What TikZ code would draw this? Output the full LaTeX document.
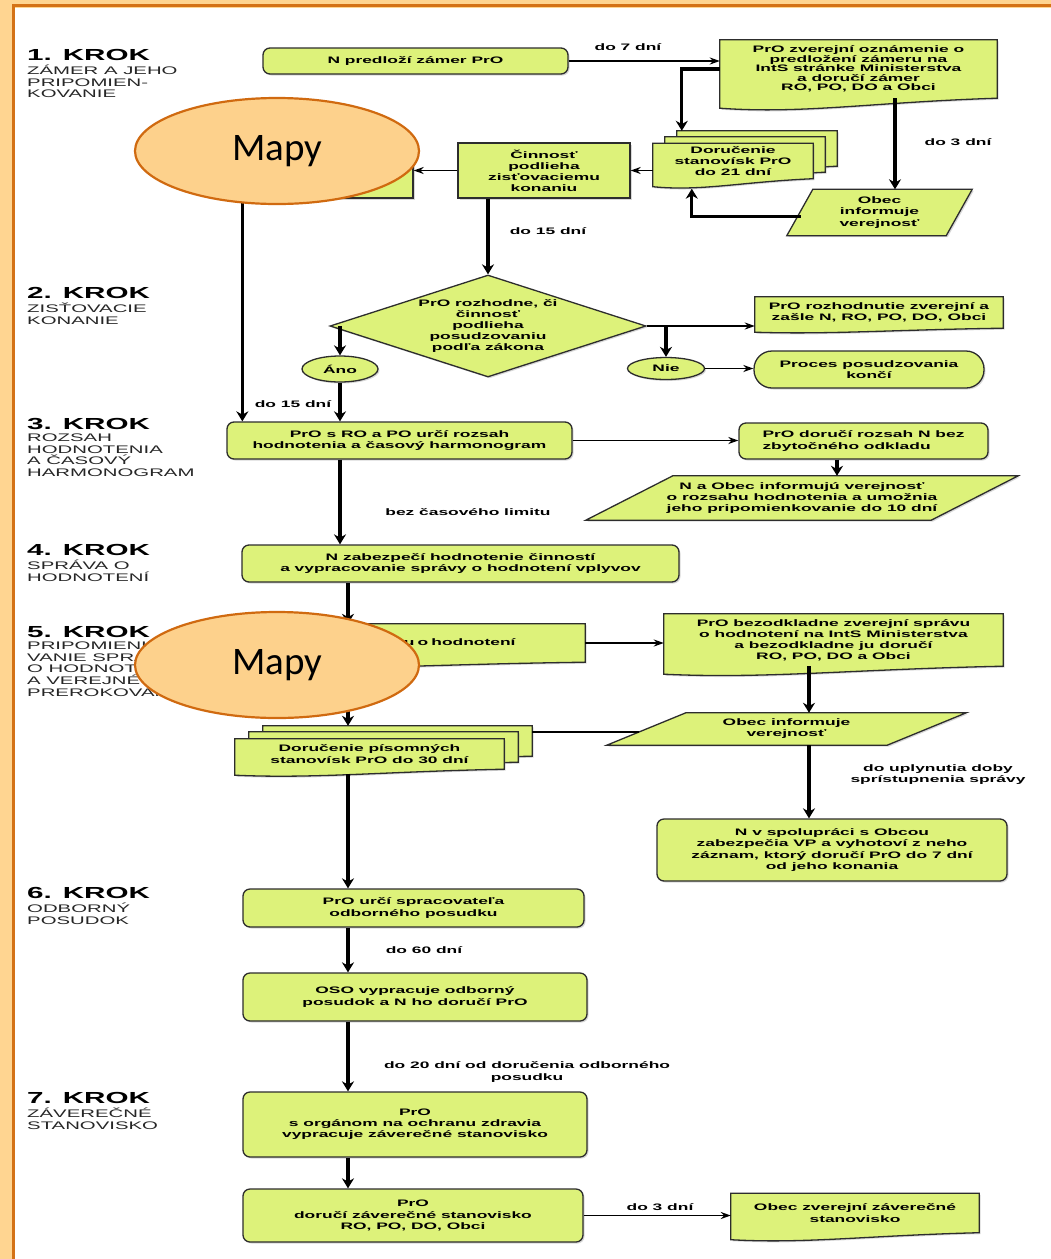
\documentclass[tikz,border=0pt]{standalone}
\usepackage{fontspec}
\usepackage{tikz}
\usetikzlibrary{shapes}
\usetikzlibrary{arrows.meta}
\usetikzlibrary{backgrounds}
\usetikzlibrary{calc}
\usetikzlibrary{shadows}

\newfontfamily\widefont{Liberation Sans}[FakeStretch=1.85]
\newfontfamily\mapfont{Carlito}

\definecolor{boxfill}{RGB}{221,242,122}
\definecolor{boxline}{RGB}{45,45,45}
\definecolor{mapfill}{RGB}{253,209,140}
\definecolor{mapline}{RGB}{208,106,16}
\definecolor{framefill}{RGB}{255,213,145}
\definecolor{frameline}{RGB}{212,114,22}

\tikzset{
  shadowed/.style={drop shadow={shadow xshift=1.5pt,shadow yshift=-1.5pt,opacity=0.3}},
  boxtext/.style={font=\widefont\bfseries\fontsize{9.4}{11.1}\selectfont,align=center,inner sep=0pt},
  tight/.style={font=\widefont\bfseries\fontsize{9.4}{9.5}\selectfont},
  box/.style={boxtext,rectangle,draw=boxline,fill=boxfill,line width=1.3pt,rounded corners=7pt,shadowed},
  rect/.style={box,sharp corners},
  doc/.style={boxtext,rectangle},
  para/.style={boxtext,rectangle},
  shapeline/.style={draw=boxline,fill=boxfill,line width=1.3pt,shadowed},
  oval/.style={boxtext,ellipse,draw=boxline,fill=boxfill,line width=1.3pt,shadowed},
  decision/.style={boxtext,diamond,aspect=3.1,draw=boxline,fill=boxfill,line width=1.3pt,shadowed},
  mapy/.style={ellipse,draw=mapline,fill=mapfill,line width=2.2pt,inner sep=0pt,
    font=\mapfont\fontsize{39}{40}\selectfont,minimum width=284pt,minimum height=106pt},
  krok/.style={anchor=base west,inner sep=0pt,font=\widefont\bfseries\fontsize{16}{17}\selectfont},
  krokdesc/.style={anchor=north west,inner sep=0pt,align=left,text=black!85,
    font=\widefont\fontsize{11}{11.6}\selectfont,execute at begin node={\vphantom{Á}}},
  lbl/.style={boxtext},
  flow/.style={-{Stealth[length=10pt,width=12pt]},line width=3.3pt},
  link/.style={-{Stealth[length=10pt,width=7pt]},line width=1.9pt},
  bare/.style={line width=1.9pt}
}

\newcommand\docshape[2]{%
  \draw[shapeline] (#1.north west) -- (#1.north east) -- (#1.south east)
    .. controls ($(#1.south east)!0.45!(#1.south west)+(0,{0.4*#2})$)
    and ($(#1.south east)!0.7!(#1.south west)+(0,{1.6*#2})$)
    .. ($(#1.south west)+(0,#2)$) -- cycle;}
\newcommand\parashape[2]{%
  \draw[shapeline] ([xshift=#2]#1.north west) -- (#1.north east)
    -- ([xshift=-#2]#1.south east) -- (#1.south west) -- cycle;}

\begin{document}
\begin{tikzpicture}[x=1pt,y=-1pt]
\useasboundingbox (0,0) rectangle (1051,1259);
\begin{scope}[on background layer]
\fill[framefill] (0,0) rectangle (1051,1259);
\fill[white] (15,7.5) rectangle (1051,1259);
\draw[frameline,line width=3pt] (13.5,1259) -- (13.5,5.8) -- (1051,5.8);
\end{scope}

\node[krok] (k1) at (27,60.5) {1. KROK};
\node[krokdesc] (k1d) at ([yshift=-4.4pt]k1.base west) {ZÁMER A JEHO\\PRIPOMIEN-\\KOVANIE};
\node[krok] (k2) at (27,298.5) {2. KROK};
\node[krokdesc] (k2d) at ([yshift=-4.4pt]k2.base west) {ZISŤOVACIE\\KONANIE};
\node[krok] (k3) at (27,429.5) {3. KROK};
\node[krokdesc] (k3d) at ([yshift=-4.4pt]k3.base west) {ROZSAH\\HODNOTENIA\\A ČASOVÝ\\HARMONOGRAM};
\node[krok] (k4) at (27,555.5) {4. KROK};
\node[krokdesc] (k4d) at ([yshift=-4.4pt]k4.base west) {SPRÁVA O\\HODNOTENÍ};
\node[krok] (k5) at (27,637.5) {5. KROK};
\node[krokdesc] (k5d) at ([yshift=-4.4pt]k5.base west) {PRIPOMIENKO-\\VANIE SPRÁVY\\O HODNOTENÍ\\A VEREJNÉ\\PREROKOVANIE};
\node[krok] (k6) at (27,898.5) {6. KROK};
\node[krokdesc] (k6d) at ([yshift=-4.4pt]k6.base west) {ODBORNÝ\\POSUDOK};
\node[krok] (k7) at (27,1103.5) {7. KROK};
\node[krokdesc] (k7d) at ([yshift=-4.4pt]k7.base west) {ZÁVEREČNÉ\\STANOVISKO};

\node[box,minimum width=305pt,minimum height=26pt] (n1) at (415.5,61) {N predloží zámer PrO};
\node[doc,tight,minimum width=277pt,minimum height=58pt] (n2) at (858.5,69)
  {PrO zverejní oznámenie o\\predložení zámeru na\\IntS stránke Ministerstva\\a doručí zámer\\RO, PO, DO a Obci};
\node[rect,minimum width=188pt,minimum height=55pt] (h1) at (319,170.5) {};
\node[rect,minimum width=172pt,minimum height=55pt] (c1) at (544,170.5) {Činnosť\\podlieha\\zisťovaciemu\\konaniu};
\node[doc,minimum width=160pt,minimum height=35pt] (s21c) at (757,148.5) {};
\node[doc,minimum width=160pt,minimum height=35pt] (s21b) at (745,154.5) {};
\node[doc,minimum width=160pt,minimum height=35pt] (s21a) at (733,161) {Doručenie\\stanovísk PrO\\do 21 dní};
\node[para,minimum width=185pt,minimum height=46pt] (obecA) at (879.5,212.5) {Obec\\informuje\\verejnosť};
\node[decision,minimum width=316pt,minimum height=102pt] (dia) at (488,326)
  {PrO rozhodne, či\\činnosť\\podlieha\\posudzovaniu\\podľa zákona};
\node[oval,minimum width=76pt,minimum height=26pt] (ano) at (340,369) {Áno};
\node[oval,minimum width=77pt,minimum height=22pt] (nie) at (666,368.5) {Nie};
\node[doc,minimum width=248pt,minimum height=31pt] (r1) at (879,312.5) {PrO rozhodnutie zverejní a\\zašle N, RO, PO, DO, Obci};
\node[box,rounded corners=18pt,minimum width=230pt,minimum height=37pt] (p1) at (869,369.5) {Proces posudzovania\\končí};
\node[box,minimum width=345pt,minimum height=37pt] (rozsah) at (399.5,440.5)
  {PrO s RO a PO určí rozsah\\hodnotenia a časový harmonogram};
\node[box,align=left,minimum width=249pt,minimum height=36pt] (dorucR) at (863.5,441) {PrO doručí rozsah N bez\\zbytočného odkladu};
\node[para,minimum width=432pt,minimum height=44pt] (infoR) at (802,498)
  {N a Obec informujú verejnosť\\o rozsahu hodnotenia a umožnia\\jeho pripomienkovanie do 10 dní};
\node[box,minimum width=437pt,minimum height=37pt] (sprava) at (460.5,563.5)
  {N zabezpečí hodnotenie činností\\a vypracovanie správy o hodnotení vplyvov};
\node[doc,minimum width=335pt,minimum height=38pt,text width=196pt,align=right] (b5) at (417.5,643) {správu o hodnotení};
\node[doc,minimum width=339pt,minimum height=52pt] (zverej) at (833.5,640)
  {PrO bezodkladne zverejní správu\\o hodnotení na IntS Ministerstva\\a bezodkladne ju doručí\\RO, PO, DO a Obci};
\node[para,minimum width=359pt,minimum height=32pt] (obecB) at (786.5,729) {Obec informuje\\verejnosť};
\node[doc,minimum width=269pt,minimum height=30pt] (s30c) at (397.5,741) {};
\node[doc,minimum width=269pt,minimum height=30pt] (s30b) at (383.5,747) {};
\node[doc,minimum width=269pt,minimum height=30pt] (s30a) at (369.5,754) {Doručenie písomných\\stanovísk PrO do 30 dní};
\node[box,minimum width=350pt,minimum height=62pt] (vp) at (832,850)
  {N v spolupráci s Obcou\\zabezpečia VP a vyhotoví z neho\\záznam, ktorý doručí PrO do 7 dní\\od jeho konania};
\node[box,minimum width=341pt,minimum height=38pt] (o1) at (413.5,908) {PrO určí spracovateľa\\odborného posudku};
\node[box,minimum width=344pt,minimum height=48pt] (o2) at (415,997) {OSO vypracuje odborný\\posudok a N ho doručí PrO};
\node[box,minimum width=344pt,minimum height=65pt] (z1) at (415,1124.5)
  {PrO\\s orgánom na ochranu zdravia\\vypracuje záverečné stanovisko};
\node[box,minimum width=340pt,minimum height=53pt] (z2) at (413,1215.5) {PrO\\doručí záverečné stanovisko\\RO, PO, DO, Obci};
\node[doc,minimum width=248pt,minimum height=39pt] (z3) at (855,1213) {Obec zverejní záverečné\\stanovisko};

\begin{scope}[on background layer]
\docshape{n2}{10}
\docshape{s21c}{8}
\docshape{s21b}{8}
\docshape{s21a}{8}
\parashape{obecA}{26}
\docshape{r1}{4}
\parashape{infoR}{87}
\docshape{b5}{5}
\docshape{zverej}{8}
\parashape{obecB}{79}
\docshape{s30c}{6}
\docshape{s30b}{6}
\docshape{s30a}{6}
\docshape{z3}{7}
\end{scope}

\node[lbl] (t7) at (628,47) {do 7 dní};
\node[lbl] (t3) at (958,142) {do 3 dní};
\node[lbl] (t15a) at (548,231) {do 15 dní};
\node[lbl] (t15b) at (293,404) {do 15 dní};
\node[lbl] (tbez) at (468,512) {bez časového limitu};
\node[lbl] (tupl) at (938,775) {do uplynutia doby\\sprístupnenia správy};
\node[lbl] (t60) at (424,950) {do 60 dní};
\node[lbl] (t20) at (527,1072) {do 20 dní od doručenia odborného\\posudku};
\node[lbl] (t3b) at (660,1207) {do 3 dní};

\coordinate (col) at (348,0);
\draw[link] (n1.east) -- (n1.east -| n2.west);
\draw[flow] (n2.west) -| ([xshift=5pt]s21c.north west);
\draw[flow] ([xshift=36.5pt]n2.south) -- ([xshift=36.5pt]n2.south |- obecA.north);
\draw[flow] ([xshift=14pt,yshift=-4pt]obecA.west) -| ([xshift=39pt,yshift=-10pt]s21a.south west);
\draw[link] (s21a.west |- c1.east) -- (c1.east);
\draw[link] (c1.west) -- (h1.east);
\draw[flow] (c1.south -| dia.north) -- (dia.north);
\draw[flow] (dia.west -| ano.north) -- (ano.north);
\draw[flow] (ano.south) -- (ano.south |- rozsah.north);
\draw[flow] ([xshift=18pt]h1.south west) -- ([xshift=18pt]h1.south west |- rozsah.north);
\draw[link] (dia.east) -- (dia.east -| r1.west);
\draw[flow] (dia.east -| nie.north) -- (nie.north);
\draw[link] (nie.east) -- (nie.east -| p1.west);
\draw[link] (rozsah.east) -- (rozsah.east -| dorucR.west);
\draw[flow] ([xshift=-26.5pt]dorucR.south) -- ([xshift=-26.5pt]dorucR.south |- infoR.north);
\draw[flow] (rozsah.south -| ano.south) -- (sprava.north -| ano.south);
\draw[flow] (sprava.south -| col) -- (b5.north -| col);
\draw[link] (b5.east) -- (b5.east -| zverej.west);
\draw[flow] ([xshift=-24.5pt]zverej.south) -- ([xshift=-24.5pt]zverej.south |- obecB.north);
\draw[bare] ([xshift=32pt,yshift=-3pt]obecB.west) -- ([yshift=-3pt]obecB.west -| s30c.east);
\draw[flow] ([xshift=22.5pt]obecB.south) -- ([xshift=22.5pt]obecB.south |- vp.north);
\draw[flow] (b5.south -| col) -- (s30c.north -| col);
\draw[flow] ([yshift=-5pt]s30a.south -| col) -- (o1.north -| col);
\draw[flow] (o1.south -| col) -- (o2.north -| col);
\draw[flow] (o2.south -| col) -- (z1.north -| col);
\draw[flow] (z1.south -| col) -- (z2.north -| col);
\draw[link] (z2.east) -- (z2.east -| z3.west);

\node[mapy] (mapa1) at (277,151) {Mapy};
\node[mapy] (mapa2) at (277,665) {Mapy};
\end{tikzpicture}
\end{document}
